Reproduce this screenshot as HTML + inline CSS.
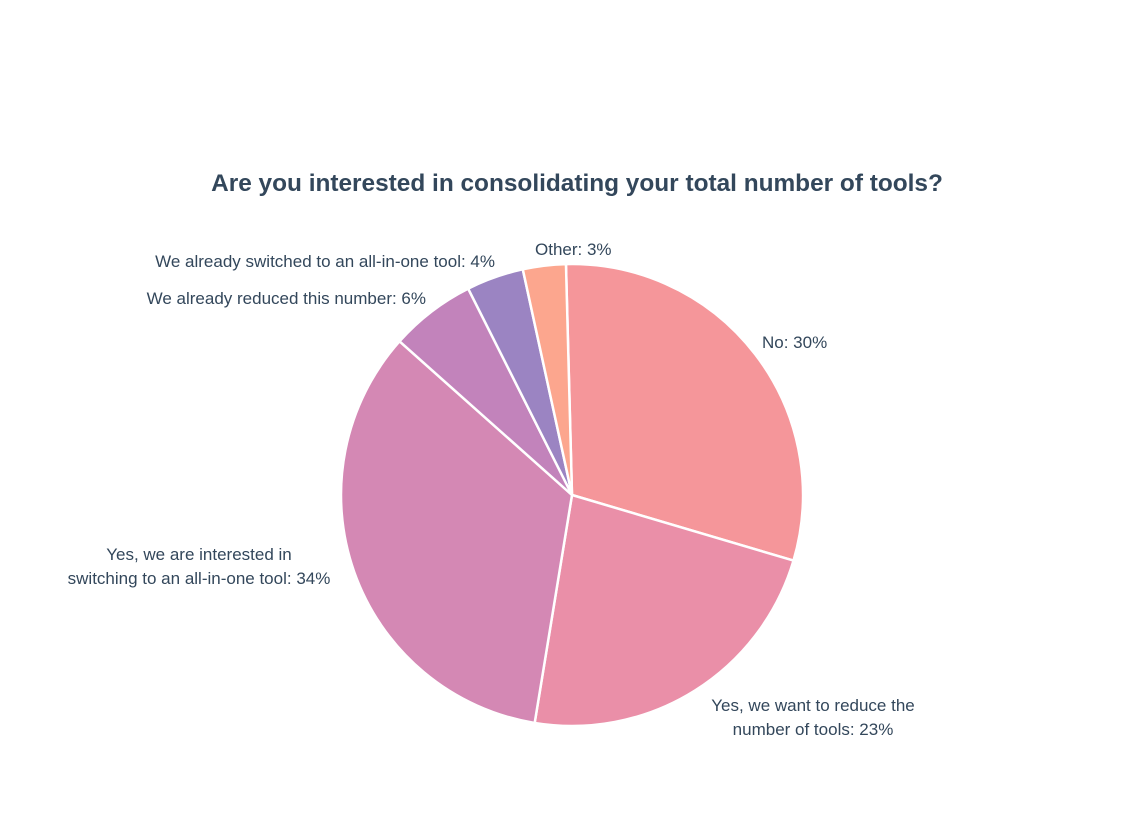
<!DOCTYPE html>
<html><head><meta charset="utf-8"><style>
body{margin:0;background:#fff;width:1132px;height:813px;overflow:hidden;font-family:"Liberation Sans",sans-serif}
svg text{font-family:"Liberation Sans",sans-serif}
</style></head><body>
<svg id="chart" width="1132" height="813">
<text x="577" y="191" text-anchor="middle" font-size="24.4" font-weight="bold" fill="#33475b">Are you interested in consolidating your total number of tools?</text>
<g id="slices"></g>
<g id="labels" font-size="17" fill="#33475b"></g>
</svg>
<script>
const categories=["No","Yes, we want to reduce the number of tools","Yes, we are interested in switching to an all-in-one tool","We already reduced this number","We already switched to an all-in-one tool","Other"];
const values=[30,23,34,6,4,3];
const colors=["#f5969a","#ea8fa8","#d488b4","#c283bb","#9b84c2","#fca68e"];
const cx=572,cy=495,r=231,start=-1.5;
const total=values.reduce((a,b)=>a+b,0);
const ns="http://www.w3.org/2000/svg";
const g=document.getElementById('slices');
function pt(a,rr){const t=a*Math.PI/180;return [cx+rr*Math.sin(t),cy-rr*Math.cos(t)];}
let a=start;
values.forEach((v,i)=>{
 const a2=a+v/total*360;
 const p1=pt(a,r),p2=pt(a2,r);
 const large=(a2-a)>180?1:0;
 const p=document.createElementNS(ns,'path');
 p.setAttribute('d',`M${cx},${cy}L${p1[0]},${p1[1]}A${r},${r} 0 ${large} 1 ${p2[0]},${p2[1]}Z`);
 p.setAttribute('fill',colors[i]);p.setAttribute('stroke','#fff');p.setAttribute('stroke-width','2.5');
 
 
 g.appendChild(p);
 a=a2;
});
const labelLines=[["No: "+values[0]+"%"],["Yes, we want to reduce the","number of tools: "+values[1]+"%"],["Yes, we are interested in","switching to an all-in-one tool: "+values[2]+"%"],["We already reduced this number: "+values[3]+"%"],["We already switched to an all-in-one tool: "+values[4]+"%"],["Other: "+values[5]+"%"]];
const labelPos=[[762,348,"start"],[813,711,"middle"],[199,560,"middle"],[426,304,"end"],[495,267,"end"],[535,255,"start"]];
const lg=document.getElementById('labels');
labelLines.forEach((lines,i)=>{
 const t=document.createElementNS(ns,'text');
 t.setAttribute('x',labelPos[i][0]);t.setAttribute('y',labelPos[i][1]);t.setAttribute('text-anchor',labelPos[i][2]);
 
 
 lines.forEach((l,j)=>{const s=document.createElementNS(ns,'tspan');s.setAttribute('x',labelPos[i][0]);s.setAttribute('dy',j?24:0);s.textContent=l;t.appendChild(s);});
 lg.appendChild(t);
});
</script>
</body></html>
